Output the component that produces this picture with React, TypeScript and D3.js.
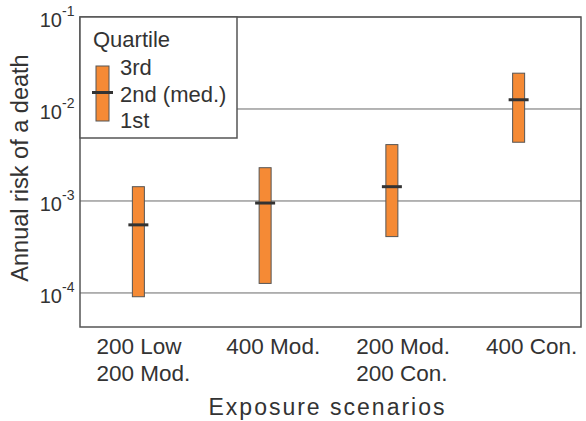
import * as d3 from 'd3';

// quartiles of the annual risk per exposure scenario
const scenarios = ['200 Low\n200 Mod.', '400 Mod.', '200 Mod.\n200 Con.', '400 Con.'];
const q1 = [9.1e-5, 1.27e-4, 4.1e-4, 4.35e-3];
const median = [5.5e-4, 9.5e-4, 1.43e-3, 1.26e-2];
const q3 = [1.43e-3, 2.3e-3, 4.1e-3, 2.45e-2];
const tickExponents = [-4, -3, -2, -1];
const legendLabels = ['3rd', '2nd (med.)', '1st'];

const W = 586;
const H = 421;
const left = 80;
const right = 581;
const top = 17;
const bottom = 327;

const ORANGE = '#f58a35';
const INK = '#333';
const FONT = '"Liberation Sans", Arial, sans-serif';

export default function App() {
  const x = d3.scalePoint<string>().domain(scenarios).range([75, 582]).padding(0.5);
  const xLabel = d3.scalePoint<string>().domain(scenarios).range([146.5, 536]);
  const y = d3.scaleLog().domain([Math.pow(10, -4.37), 0.1]).range([bottom, top]);
  const barW = 12;

  return (
    <svg
      width={W}
      height={H}
      style={{ position: 'absolute', left: 0, top: 0, fontFamily: FONT }}
    >
      <rect x={0} y={0} width={W} height={H} fill="#fff" />

      {/* grid lines */}
      {tickExponents.map((e) => (
        <line
          key={e}
          x1={left}
          x2={right}
          y1={y(Math.pow(10, e))}
          y2={y(Math.pow(10, e))}
          stroke="#6a6a6a"
          strokeWidth={1}
        />
      ))}

      {/* y tick labels */}
      {tickExponents.map((e) => (
        <g key={'t' + e} transform={`translate(62, ${y(Math.pow(10, e))})`} fill={INK}>
          <text textAnchor="end" y={10} fontSize={20}>
            10
          </text>
          <text x={0} y={-1} fontSize={14}>
            {e}
          </text>
        </g>
      ))}

      {/* boxes */}
      {scenarios.map((s, i) => (
        <g key={s}>
          <rect
            x={x(s)! - barW / 2}
            y={y(q3[i])}
            width={barW}
            height={y(q1[i]) - y(q3[i])}
            fill={ORANGE}
            stroke="#555"
            strokeWidth={1}
          />
          <line
            x1={x(s)! - 10}
            x2={x(s)! + 10}
            y1={y(median[i])}
            y2={y(median[i])}
            stroke={INK}
            strokeWidth={3}
          />
        </g>
      ))}

      {/* frame */}
      <rect
        x={left}
        y={top}
        width={right - left}
        height={bottom - top}
        fill="none"
        stroke="#555"
        strokeWidth={1.5}
      />

      {/* x tick labels */}
      {scenarios.map((s) => (
        <text key={'l' + s} fontSize={22.5} fill={INK}>
          {s.split('\n').map((line, j) => (
            <tspan key={j} x={xLabel(s)! - 50} y={354 + j * 27}>
              {line}
            </tspan>
          ))}
        </text>
      ))}

      {/* axis titles */}
      <text
        x={(left + right) / 2 - 3}
        y={415}
        textAnchor="middle"
        fontSize={23}
        letterSpacing={2}
        fill={INK}
      >
        Exposure scenarios
      </text>
      <text
        transform={`translate(28, ${(top + bottom) / 2 - 4}) rotate(-90)`}
        textAnchor="middle"
        fontSize={23.5}
        fill={INK}
      >
        Annual risk of a death
      </text>

      {/* legend */}
      <g>
        <rect x={left} y={top} width={157} height={121} fill="#fff" stroke="#555" strokeWidth={1.5} />
        <text x={93} y={47} fontSize={22} fill={INK}>
          Quartile
        </text>
        <rect x={96} y={66} width={13} height={55} fill={ORANGE} stroke="#555" strokeWidth={1} />
        <line x1={92} x2={113} y1={92.5} y2={92.5} stroke={INK} strokeWidth={3} />
        {legendLabels.map((t, i) => (
          <text key={t} x={120} y={75 + i * 26.5} fontSize={22} fill={INK}>
            {t}
          </text>
        ))}
      </g>
    </svg>
  );
}
